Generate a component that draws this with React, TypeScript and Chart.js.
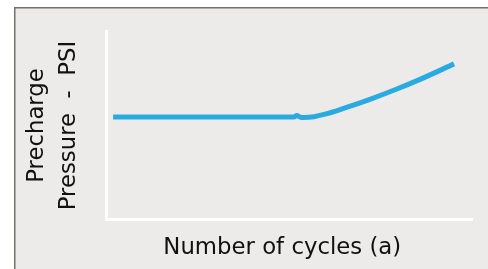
import { useEffect, useRef } from "react";
import { Chart, registerables } from "chart.js";

Chart.register(...registerables);

// Data (arbitrary units, axes carry no ticks)
const cycles = [1.8, 51.2, 52.0, 52.9, 53.69, 56.69, 59.7, 65.16, 71.99, 78.83, 85.66, 94.95];
const pressure = [54.5, 54.5, 55.3, 54.5, 54.26, 54.68, 56.01, 59.36, 63.94, 68.99, 74.52, 82.77];
const yTitleLines = ["Precharge", "Pressure  -  PSI"];
const xTitle = "Number of cycles (a)  ";

const panelPlugin = {
  id: "panel",
  beforeDraw(chart: any) {
    const { ctx, width, height } = chart;
    ctx.save();
    ctx.fillStyle = "#ffffff";
    ctx.fillRect(0, 0, width, height);
    ctx.fillStyle = "#edebe9";
    ctx.fillRect(14, 7, width - 14, height - 7);
    ctx.fillStyle = "#75716b";
    ctx.fillRect(14, 7, width - 14, 1.5);
    ctx.fillRect(14, 7, 1.5, height - 7);
    ctx.restore();
  },
};

export default function App() {
  const ref = useRef<HTMLCanvasElement | null>(null);
  useEffect(() => {
    if (!ref.current) return;
    const chart = new Chart(ref.current, {
      type: "line",
      data: {
        datasets: [
          {
            data: cycles.map((x, i) => ({ x, y: pressure[i] })),
            borderColor: "#29abe2",
            borderWidth: 5,
            pointRadius: 0,
            cubicInterpolationMode: "monotone",
            fill: false,
          },
        ],
      },
      options: {
        responsive: false,
        animation: false,
        layout: { padding: { left: 21.15, right: 15.5, top: 31.5, bottom: 0 } },
        plugins: { legend: { display: false }, tooltip: { enabled: false } },
        scales: {
          x: {
            type: "linear",
            min: 0,
            max: 100,
            ticks: { display: false },
            grid: { display: false, drawTicks: false },
            border: { color: "#ffffff", width: 3 },
            title: {
              display: true,
              text: xTitle,
              color: "#111111",
              font: { family: "DejaVu Sans", size: 22.8, lineHeight: 1.2 },
              padding: { top: 14.62, bottom: 7.52 },
            },
          },
          y: {
            type: "linear",
            min: 0,
            max: 100,
            ticks: { display: false },
            grid: { display: false, drawTicks: false },
            border: { color: "#ffffff", width: 3 },
            title: {
              display: true,
              text: yTitleLines,
              color: "#111111",
              font: { family: "DejaVu Sans", size: 22.8, lineHeight: 31.7 / 22.8 },
              padding: { top: 0, bottom: 21.95 },
            },
          },
        },
      },
      plugins: [panelPlugin],
    });
    return () => chart.destroy();
  }, []);
  return (
    <div style={{ position: "fixed", left: 0, top: 0, width: 488, height: 269 }}>
      <canvas ref={ref} width={488} height={269} style={{ display: "block" }} />
    </div>
  );
}
